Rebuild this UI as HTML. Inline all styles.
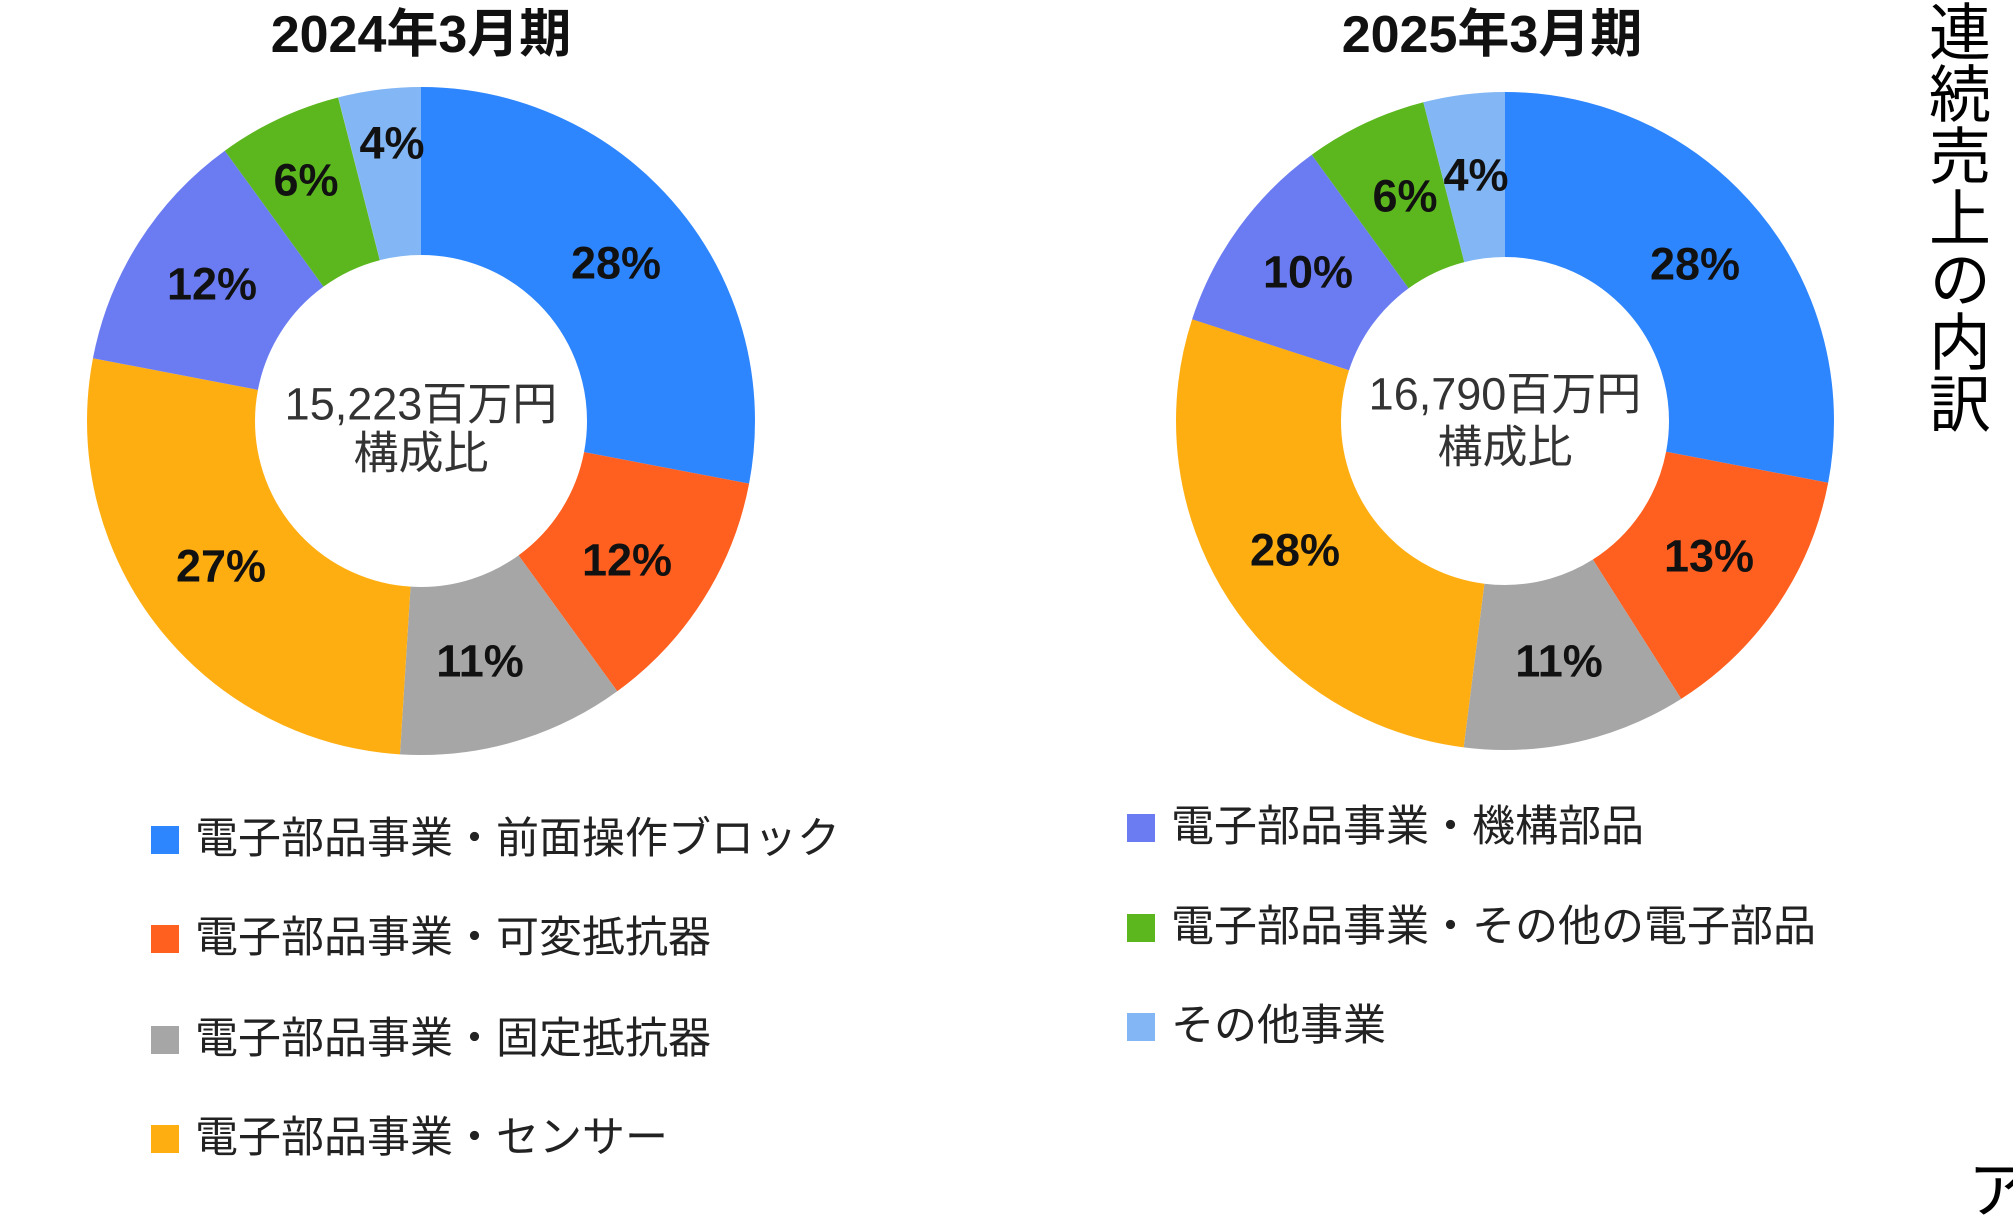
<!DOCTYPE html>
<html><head><meta charset="utf-8"><style>
body{margin:0;width:2013px;height:1215px;background:#fff;overflow:hidden;position:relative;font-family:"Liberation Sans","Noto Sans CJK JP",sans-serif}
svg{position:absolute;left:0;top:0}
.lg{position:absolute;font-size:43px;color:#222;line-height:44px;white-space:nowrap}
.lg i{position:absolute;width:28px;height:28px;left:-44px;top:9px}
.vt{position:absolute;left:1920px;top:0;writing-mode:vertical-rl;font-size:62px;line-height:66px;color:#000;letter-spacing:0px}
</style></head><body>
<svg width="2013" height="1215" viewBox="0 0 2013 1215" font-family="Liberation Sans, Noto Sans CJK JP, sans-serif">
<g transform="rotate(-90 421 421)" fill="none" stroke-width="168">
<circle cx="421" cy="421" r="250" stroke="#2E86FF" stroke-dasharray="439.8 2000" stroke-dashoffset="0"/>
<circle cx="421" cy="421" r="250" stroke="#FF5F1F" stroke-dasharray="188.5 2000" stroke-dashoffset="-439.8"/>
<circle cx="421" cy="421" r="250" stroke="#A6A6A6" stroke-dasharray="172.8 2000" stroke-dashoffset="-628.3"/>
<circle cx="421" cy="421" r="250" stroke="#FFAE12" stroke-dasharray="424.1 2000" stroke-dashoffset="-801.1"/>
<circle cx="421" cy="421" r="250" stroke="#6B7CF2" stroke-dasharray="188.5 2000" stroke-dashoffset="-1225.2"/>
<circle cx="421" cy="421" r="250" stroke="#5CB71E" stroke-dasharray="94.2 2000" stroke-dashoffset="-1413.7"/>
<circle cx="421" cy="421" r="250" stroke="#82B6F4" stroke-dasharray="62.8 2000" stroke-dashoffset="-1508"/>
</g>
<g transform="rotate(-90 1505 421)" fill="none" stroke-width="165">
<circle cx="1505" cy="421" r="246.5" stroke="#2E86FF" stroke-dasharray="433.7 2000" stroke-dashoffset="0"/>
<circle cx="1505" cy="421" r="246.5" stroke="#FF5F1F" stroke-dasharray="201.3 2000" stroke-dashoffset="-433.7"/>
<circle cx="1505" cy="421" r="246.5" stroke="#A6A6A6" stroke-dasharray="170.4 2000" stroke-dashoffset="-635"/>
<circle cx="1505" cy="421" r="246.5" stroke="#FFAE12" stroke-dasharray="433.7 2000" stroke-dashoffset="-805.4"/>
<circle cx="1505" cy="421" r="246.5" stroke="#6B7CF2" stroke-dasharray="154.9 2000" stroke-dashoffset="-1239"/>
<circle cx="1505" cy="421" r="246.5" stroke="#5CB71E" stroke-dasharray="92.9 2000" stroke-dashoffset="-1393.9"/>
<circle cx="1505" cy="421" r="246.5" stroke="#82B6F4" stroke-dasharray="62 2000" stroke-dashoffset="-1486.8"/>
</g>
<g font-weight="bold" font-size="52" text-anchor="middle" fill="#111">
<text x="421" y="52">2024年3月期</text>
<text x="1492" y="52">2025年3月期</text>
</g>
<g font-weight="bold" font-size="45" text-anchor="middle" fill="#111" dominant-baseline="central">
<text x="616" y="263">28%</text><text x="627" y="560">12%</text><text x="480" y="661">11%</text>
<text x="221" y="566">27%</text><text x="212" y="284">12%</text><text x="306" y="180">6%</text><text x="392" y="143">4%</text>
<text x="1695" y="264">28%</text><text x="1709" y="556">13%</text><text x="1559" y="661">11%</text>
<text x="1295" y="550">28%</text><text x="1308" y="272">10%</text><text x="1405" y="196">6%</text><text x="1476" y="175">4%</text>
</g>
<g font-size="45" text-anchor="middle" fill="#333" dominant-baseline="central">
<text x="421" y="404">15,223百万円</text><text x="421" y="453">構成比</text>
<text x="1505" y="394">16,790百万円</text><text x="1505" y="447">構成比</text>
</g>
<text x="1968" y="1212" font-size="62" fill="#000">ア</text>
</svg>
<div class="lg" style="left:195px;top:817px"><i style="background:#2E86FF"></i>電子部品事業・前面操作ブロック</div>
<div class="lg" style="left:195px;top:916px"><i style="background:#FF5F1F"></i>電子部品事業・可変抵抗器</div>
<div class="lg" style="left:195px;top:1017px"><i style="background:#A6A6A6"></i>電子部品事業・固定抵抗器</div>
<div class="lg" style="left:195px;top:1116px"><i style="background:#FFAE12"></i>電子部品事業・センサー</div>
<div class="lg" style="left:1171px;top:805px"><i style="background:#6B7CF2"></i>電子部品事業・機構部品</div>
<div class="lg" style="left:1171px;top:905px"><i style="background:#5CB71E"></i>電子部品事業・その他の電子部品</div>
<div class="lg" style="left:1171px;top:1004px"><i style="background:#82B6F4"></i>その他事業</div>
<div class="vt">連続売上の内訳</div>
</body></html>
